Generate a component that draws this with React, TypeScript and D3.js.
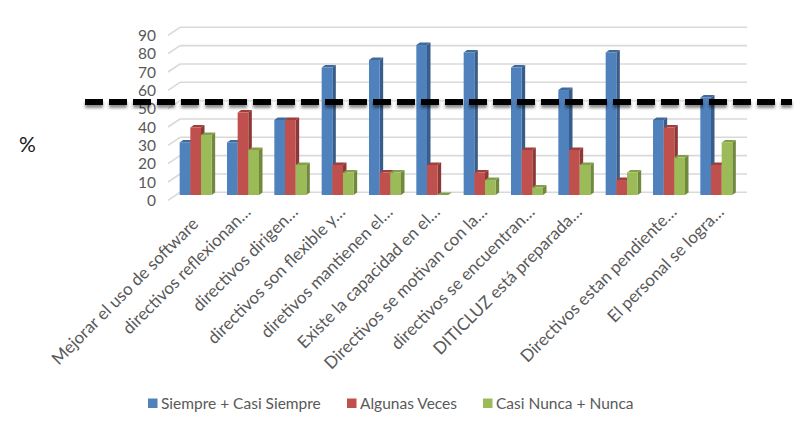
import React from "react";
import * as d3 from "d3";

const categories = [
  "Mejorar el uso de software",
  "directivos reflexionan…",
  "directivos dirigen…",
  "directivos son flexible y…",
  "diretivos mantienen el…",
  "Existe la capacidad en el…",
  "Directivos se motivan con la…",
  "directivos se encuentran…",
  "DITICLUZ está preparada…",
  "",
  "Directivos estan pendiente…",
  "El personal se logra…",
];
const seriesNames = ["Siempre + Casi Siempre", "Algunas Veces", "Casi Nunca + Nunca"];
const siempre = [29.2, 29.2, 41.7, 70.8, 75, 83.3, 79.2, 70.8, 58.3, 79.2, 41.7, 54.2];
const algunas = [37.5, 45.8, 41.7, 16.7, 12.5, 16.7, 12.5, 25, 25, 8.3, 37.5, 16.7];
const nunca = [33.3, 25, 16.7, 12.5, 12.5, 0, 8.3, 4.2, 16.7, 12.5, 20.8, 29.2];
const yTicks = [0, 10, 20, 30, 40, 50, 60, 70, 80, 90];
const threshold = 49.3;

const colors = [
  { front: "#4F81BD", side: "#385D8A", top: "#41699A" },
  { front: "#C0504D", side: "#8C3836", top: "#A03E3B" },
  { front: "#9BBB59", side: "#71893F", top: "#849F4A" },
];

const W = 805;
const H = 422;
const FONT = "Lato, 'Open Sans', sans-serif";

export default function App() {
  const values = [siempre, algunas, nunca];
  const x = d3.scaleBand<string>().domain(categories.map((_, i) => String(i))).range([172, 740]);
  const inner = d3.scaleBand<string>().domain(seriesNames).range([0, 32]);
  const yBack = d3.scaleLinear().domain([0, 90]).range([192.3, 27.3]);
  const yFront = d3.scaleLinear().domain([0, 90]).range([195, 33]);
  const depthX = 3.5;
  const depthY = -2.5;
  const wallLeft = 180;
  const wallRight = 747;
  const legendX = [148, 347, 483];
  const ty = yBack(threshold);

  return (
    <svg
      width={W}
      height={H}
      style={{ position: "absolute", left: 0, top: 0, background: "#fff" }}
      fontFamily={FONT}
    >
      <defs>
        <filter id="shadow" filterUnits="userSpaceOnUse" x={70} y={ty - 20} width={740} height={40}>
          <feDropShadow dx="0" dy="3" stdDeviation="1.8" floodColor="#000" floodOpacity="0.45" />
        </filter>
      </defs>
      {/* gridlines */}
      {yTicks.map((t) => (
        <g key={t}>
          <line x1={wallLeft} x2={wallRight} y1={yBack(t)} y2={yBack(t)} stroke="#d9d9d9" strokeWidth={1.6} />
          <line x1={wallLeft - 12} y1={yBack(t) + 8} x2={wallLeft} y2={yBack(t)} stroke="#d9d9d9" strokeWidth={1.6} />
          <text
            x={156}
            y={yBack(t) + 8}
            dy="0.36em"
            textAnchor="end"
            fontSize={15.5}
            fill="#595959"
          >
            {t}
          </text>
        </g>
      ))}
      {/* bars */}
      {categories.map((c, i) => {
        const cx = (x(String(i)) as number) + x.bandwidth() / 2;
        const gx = cx - 16;
        return (
          <g key={i}>
            {seriesNames.map((s, k) => {
              const v = values[k][i];
              const x0 = gx + (inner(s) as number);
              const bw = inner.bandwidth();
              const yt = yFront(v);
              const yb = yFront(0);
              const col = colors[k];
              return (
                <g key={s}>
                  <polygon
                    points={`${x0 + bw},${yt} ${x0 + bw + depthX},${yt + depthY} ${x0 + bw + depthX},${yb + depthY} ${x0 + bw},${yb}`}
                    fill={col.side}
                  />
                  <polygon
                    points={`${x0},${yt} ${x0 + depthX},${yt + depthY} ${x0 + bw + depthX},${yt + depthY} ${x0 + bw},${yt}`}
                    fill={col.top}
                  />
                  <rect x={x0} y={yt} width={bw} height={Math.max(0, yb - yt)} fill={col.front} />
                </g>
              );
            })}
            {c && (
              <text
                transform={`translate(${cx + 8.7},213) rotate(-45)`}
                dx={c.endsWith("…") ? 0 : -12}
                dy={c.endsWith("…") ? 0 : 5}
                textAnchor="end"
                fontSize={17}
                fill="#595959"
              >
                {c}
              </text>
            )}
          </g>
        );
      })}
      {/* threshold dashed line */}
      <path
        d={`M85,${ty}H792`}
        stroke="#000"
        strokeWidth={6}
        strokeDasharray="18 6"
        fill="none"
        filter="url(#shadow)"
      />
      {/* % label */}
      <text x={19} y={152} fontSize={21} fill="#1a1a1a">
        %
      </text>
      {/* legend */}
      {seriesNames.map((s, k) => (
        <g key={s}>
          <rect x={legendX[k]} y={398.5} width={9.5} height={9.5} fill={colors[k].front} />
          <text x={legendX[k] + 13} y={403.5} dy="0.36em" fontSize={15.5} fill="#595959">
            {s}
          </text>
        </g>
      ))}
    </svg>
  );
}
